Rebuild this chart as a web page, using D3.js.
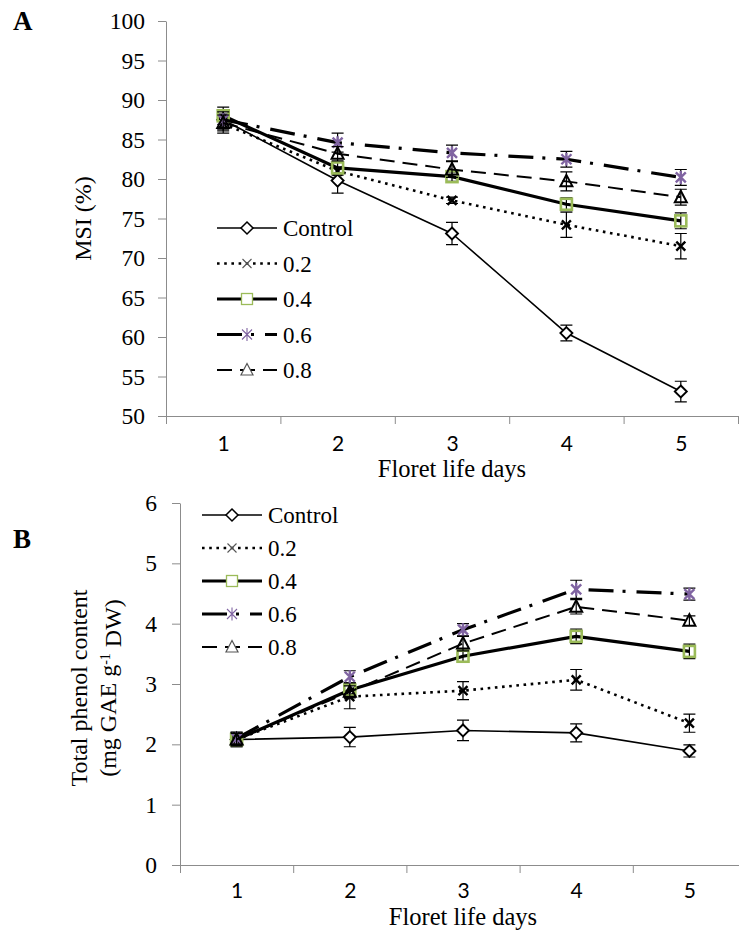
<!DOCTYPE html>
<html>
<head>
<meta charset="utf-8">
<script src="https://cdn.jsdelivr.net/npm/d3@7/dist/d3.min.js"></script>
<style>
  body { margin: 0; background: #fff; }
</style>
</head>
<body>
<div id="chart"></div>
<script>
// ---- data ----
const days = [1, 2, 3, 4, 5];
const seriesNames = ['Control', '0.2', '0.4', '0.6', '0.8'];

// Panel A: membrane stability index (%)
const msiControl = [87.5, 79.8, 73.1, 60.5, 53.1];
const msi02      = [87.0, 81.0, 77.3, 74.2, 71.5];
const msi04      = [88.0, 81.4, 80.3, 76.8, 74.7];
const msi06      = [87.5, 84.6, 83.3, 82.5, 80.2];
const msi08      = [87.1, 83.2, 81.2, 79.7, 77.7];
const msiErrControl = [1.2, 1.6, 1.4, 1.0, 1.3];
const msiErr02      = [1.2, 0.5, 0.4, 1.6, 1.6];
const msiErr04      = [1.1, 0.7, 0.6, 0.8, 1.0];
const msiErr06      = [1.0, 1.2, 1.0, 1.0, 1.0];
const msiErr08      = [1.0, 0.9, 1.0, 1.2, 1.0];
const msiTicks = [50, 55, 60, 65, 70, 75, 80, 85, 90, 95, 100];

// Panel B: total phenol content (mg GAE g-1 DW)
const phenControl = [2.08, 2.12, 2.23, 2.19, 1.89];
const phen02      = [2.08, 2.79, 2.89, 3.07, 2.35];
const phen04      = [2.08, 2.90, 3.46, 3.79, 3.54];
const phen06      = [2.10, 3.12, 3.90, 4.57, 4.49];
const phen08      = [2.08, 2.87, 3.67, 4.28, 4.05];
const phenErrControl = [0.12, 0.16, 0.17, 0.15, 0.10];
const phenErr02      = [0.12, 0.20, 0.15, 0.17, 0.15];
const phenErr04      = [0.10, 0.12, 0.10, 0.12, 0.12];
const phenErr06      = [0.10, 0.10, 0.10, 0.15, 0.10];
const phenErr08      = [0.10, 0.10, 0.12, 0.12, 0.08];
const phenTicks = [0, 1, 2, 3, 4, 5, 6];

const SERIF = '"Liberation Serif", "Times New Roman", serif';
const GREEN = '#9bbb59';
const PURPLE = '#8064a2';
const AXIS = '#8c8c8c';

// line + marker look for each series
const looks = [
  { width: 1.6, dash: null, marker: 'diamond' },
  { width: 2.6, dash: '2.6 4.6', marker: 'cross' },
  { width: 3.2, dash: null, marker: 'square' },
  { width: 3.2, dash: '25 9 3 11', marker: 'star' },
  { width: 2.0, dash: '15 8', marker: 'triangle' }
];

const svg = d3.select('#chart').append('svg')
  .attr('width', 739)
  .attr('height', 932);

function serifText(sel, size) {
  return sel.style('font-family', SERIF).style('font-size', size + 'px').attr('fill', '#000');
}

function drawMarker(g, type, cx, cy, legend) {
  if (type === 'diamond') {
    g.append('path')
      .attr('d', `M${cx},${cy - 6}L${cx + 6},${cy}L${cx},${cy + 6}L${cx - 6},${cy}Z`)
      .attr('fill', '#fff').attr('stroke', '#000').attr('stroke-width', legend ? 1.5 : 1.9);
  } else if (type === 'cross') {
    const s = 4.5;
    g.append('path')
      .attr('d', `M${cx - s},${cy - s}L${cx + s},${cy + s}M${cx - s},${cy + s}L${cx + s},${cy - s}`)
      .attr('stroke', legend ? '#555' : '#000').attr('stroke-width', legend ? 1.1 : 2.4).attr('fill', 'none');
  } else if (type === 'square') {
    g.append('rect')
      .attr('x', cx - 5.5).attr('y', cy - 5.5).attr('width', 11).attr('height', 11)
      .attr('fill', legend ? '#fff' : 'none').attr('stroke', GREEN).attr('stroke-width', legend ? 1.3 : 2.6);
  } else if (type === 'star') {
    const s = 5;
    g.append('path')
      .attr('d', `M${cx - s},${cy - s}L${cx + s},${cy + s}M${cx - s},${cy + s}L${cx + s},${cy - s}M${cx},${cy - 6.5}L${cx},${cy + 6.5}`)
      .attr('stroke', PURPLE).attr('stroke-width', legend ? 1.1 : 2.4).attr('fill', 'none');
  } else if (type === 'triangle') {
    g.append('path')
      .attr('d', `M${cx},${cy - 6.5}L${cx + 6},${cy + 5}L${cx - 6},${cy + 5}Z`)
      .attr('fill', legend ? '#fff' : 'none').attr('stroke', legend ? '#555' : '#000').attr('stroke-width', legend ? 1.2 : 2);
  }
}

function drawPanel(p) {
  const g = svg.append('g');
  const x = d3.scaleLinear().domain([0.5, 5.5]).range([p.left, p.right]);
  const y = d3.scaleLinear().domain(p.yDomain).range([p.bottom, p.top]);

  // y axis
  const ya = g.append('g')
    .attr('transform', `translate(${p.left},0)`)
    .call(d3.axisLeft(y).tickValues(p.yTicks).tickFormat(d3.format('d'))
      .tickSize(8).tickSizeOuter(0).tickPadding(p.yPad));
  ya.select('.domain').attr('stroke', AXIS);
  ya.selectAll('.tick line').attr('stroke', AXIS);
  serifText(ya.selectAll('.tick text'), 23.5);

  // x axis: tick marks between categories, labels in the middle
  const xa = g.append('g')
    .attr('transform', `translate(0,${p.bottom})`)
    .call(d3.axisBottom(x).tickValues(d3.range(0.5, 6, 1)).tickSize(8).tickSizeOuter(0).tickFormat(''));
  xa.select('.domain').attr('stroke', AXIS);
  xa.selectAll('.tick line').attr('stroke', AXIS);
  const xl = g.append('g')
    .attr('transform', `translate(0,${p.bottom})`)
    .call(d3.axisBottom(x).tickValues(days).tickFormat(d3.format('d')).tickSize(0));
  xl.select('.domain').remove();
  xl.selectAll('.tick text')
    .attr('y', p.xLabelY).attr('dy', 0)
    .style('font-family', 'Lato, "Open Sans", sans-serif')
    .style('font-size', '21px').attr('fill', '#000');

  // axis titles
  serifText(g.append('text'), 24.5)
    .attr('x', (p.left + p.right) / 2).attr('y', p.bottom + p.xTitleY)
    .attr('text-anchor', 'middle')
    .text('Floret life days');

  p.yTitle(g, (p.top + p.bottom) / 2);

  serifText(g.append('text'), 27)
    .attr('x', 13).attr('y', p.letterY)
    .style('font-weight', 'bold')
    .text(p.letter);

  // series
  const line = d3.line().x((d, i) => x(days[i])).y(d => y(d));
  p.values.forEach((vals, si) => {
    const lk = looks[si];
    const sg = g.append('g');
    sg.append('path')
      .datum(vals)
      .attr('d', line)
      .attr('fill', 'none')
      .attr('stroke', '#000')
      .attr('stroke-width', lk.width)
      .attr('stroke-dasharray', lk.dash)
      .attr('stroke-linejoin', 'round');
    vals.forEach((v, i) => {
      const cx = x(days[i]);
      const e = p.errors[si][i];
      const y1 = y(v - e), y2 = y(v + e);
      sg.append('path')
        .attr('d', `M${cx},${y1}L${cx},${y2}M${cx - 6},${y1}L${cx + 6},${y1}M${cx - 6},${y2}L${cx + 6},${y2}`)
        .attr('stroke', '#000').attr('stroke-width', 1.2).attr('fill', 'none');
      drawMarker(sg, lk.marker, cx, y(v), false);
    });
  });

  // legend
  const lg = g.append('g');
  seriesNames.forEach((name, si) => {
    const lk = looks[si];
    const ly = p.legend.y + si * p.legend.step;
    lg.append('line')
      .attr('x1', p.legend.x).attr('x2', p.legend.x + 60)
      .attr('y1', ly).attr('y2', ly)
      .attr('stroke', '#000')
      .attr('stroke-width', lk.width)
      .attr('stroke-dasharray', lk.dash);
    drawMarker(lg, lk.marker, p.legend.x + 30, ly, true);
    serifText(lg.append('text'), 23)
      .attr('x', p.legend.x + 66).attr('y', ly)
      .attr('dy', '0.35em')
      .text(name);
  });
}

drawPanel({
  letter: 'A', letterY: 30,
  left: 166, right: 738, top: 21, bottom: 416,
  yDomain: [50, 100], yTicks: msiTicks, yPad: 13,
  xLabelY: 35, xTitleY: 61,
  values: [msiControl, msi02, msi04, msi06, msi08],
  errors: [msiErrControl, msiErr02, msiErr04, msiErr06, msiErr08],
  legend: { x: 217, y: 228, step: 35.5 },
  yTitle: (g, cy) => {
    serifText(g.append('text'), 24)
      .attr('transform', `translate(83,${cy}) rotate(-90)`)
      .attr('text-anchor', 'middle').attr('dy', '0.35em')
      .text('MSI (%)');
  }
});

drawPanel({
  letter: 'B', letterY: 548,
  left: 180, right: 746, top: 503, bottom: 865,
  yDomain: [0, 6], yTicks: phenTicks, yPad: 15,
  xLabelY: 33, xTitleY: 60,
  values: [phenControl, phen02, phen04, phen06, phen08],
  errors: [phenErrControl, phenErr02, phenErr04, phenErr06, phenErr08],
  legend: { x: 202, y: 515, step: 33 },
  yTitle: (g, cy) => {
    serifText(g.append('text'), 24)
      .attr('transform', `translate(79,${cy + 4}) rotate(-90)`)
      .attr('text-anchor', 'middle').attr('dy', '0.35em')
      .text('Total phenol content');
    const t = serifText(g.append('text'), 24)
      .attr('transform', `translate(108,${cy + 4}) rotate(-90)`)
      .attr('text-anchor', 'middle').attr('dy', '0.35em');
    t.append('tspan').text('(mg GAE g');
    t.append('tspan').attr('dy', '-0.45em').style('font-size', '14px').text('-1');
    t.append('tspan').attr('dy', '0.45em').text(' DW)');
  }
});
</script>
</body>
</html>
